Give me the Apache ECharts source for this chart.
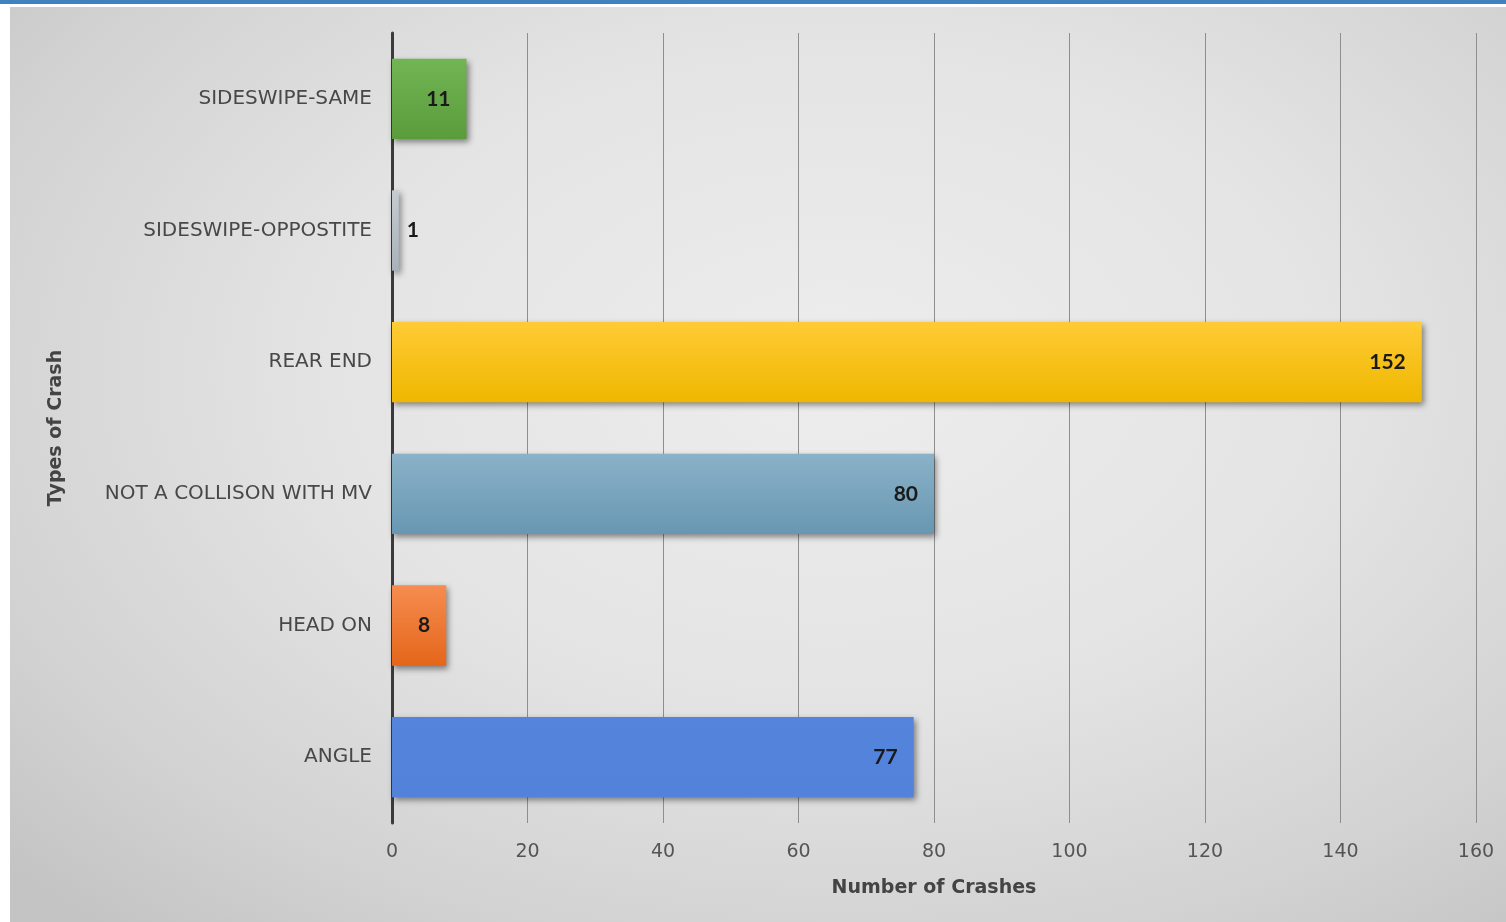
<!DOCTYPE html>
<html>
<head>
<meta charset="utf-8">
<script src="https://cdn.jsdelivr.net/npm/echarts@6/dist/echarts.min.js"></script>
<style>
  html, body { margin: 0; padding: 0; width: 1506px; height: 922px; background: #ffffff; overflow: hidden; }
  #topbar { position: absolute; left: 0; top: 0; width: 1506px; height: 4px; background: #3f82bd; }
  #panel { position: absolute; left: 10px; top: 7px; width: 1496px; height: 915px;
    background: radial-gradient(ellipse 75% 80% at 55% 40%, #ededed 0%, #e4e4e4 45%, #d2d2d2 80%, #c4c4c4 100%); }
  #chart { position: absolute; left: 0; top: 0; width: 1506px; height: 922px; }
</style>
</head>
<body>
<div id="topbar"></div>
<div id="panel"></div>
<div id="chart"></div>
<script>
const categories = ['ANGLE', 'HEAD ON', 'NOT A COLLISON WITH MV', 'REAR END', 'SIDESWIPE-OPPOSTITE', 'SIDESWIPE-SAME'];
const crashCounts = [77, 8, 80, 152, 1, 11];
const xTicks = [0, 20, 40, 60, 80, 100, 120, 140, 160];
const barColors = [
  ['#5584dc', '#5382da'],
  ['#f68c50', '#e4661a'],
  ['#8ab2c8', '#6897b2'],
  ['#ffcb35', '#efb700'],
  ['#c4cbd1', '#a9b2ba'],
  ['#72b554', '#5a9c3c']
];

const FONT = '"DejaVu Sans", sans-serif';
const VFONT = 'Lato, "Open Sans", sans-serif';
const chart = echarts.init(document.getElementById('chart'), null, { renderer: 'canvas' });

const data = crashCounts.map((v, i) => ({
  value: v,
  itemStyle: {
    color: new echarts.graphic.LinearGradient(0, 0, 0, 1, [
      { offset: 0, color: barColors[i][0] },
      { offset: 1, color: barColors[i][1] }
    ])
  },
  label: v < 3 ? { position: 'right', distance: 8 } : {}
}));

chart.setOption({
  backgroundColor: 'transparent',
  animation: false,
  grid: { left: 392, right: 30, top: 33, bottom: 99, containLabel: false },
  xAxis: {
    type: 'value',
    min: xTicks[0],
    max: xTicks[xTicks.length - 1],
    interval: xTicks[1] - xTicks[0],
    axisLine: { show: false },
    axisTick: { show: false },
    splitLine: { show: true, lineStyle: { color: '#8e8e8e', width: 1 } },
    axisLabel: { color: '#555', fontSize: 19, fontFamily: FONT, margin: 20 },
    name: 'Number of Crashes',
    nameLocation: 'middle',
    nameGap: 56,
    nameTextStyle: { color: '#444', fontSize: 19, fontWeight: 'bold', fontFamily: FONT }
  },
  yAxis: {
    type: 'category',
    data: categories,
    axisLine: { show: true, lineStyle: { color: '#3a3a3a', width: 3 } },
    axisTick: { show: false },
    splitLine: { show: false },
    axisLabel: { color: '#484848', fontSize: 20, fontFamily: FONT, margin: 20 },
    name: 'Types of Crash',
    nameLocation: 'middle',
    nameGap: 326,
    nameRotate: 90,
    nameTextStyle: { color: '#444', fontSize: 19, fontWeight: 'bold', fontFamily: FONT }
  },
  series: [{
    type: 'bar',
    data: data,
    barWidth: '61%',
    itemStyle: {
      shadowColor: 'rgba(0,0,0,0.45)',
      shadowBlur: 6,
      shadowOffsetX: 2,
      shadowOffsetY: 3
    },
    label: {
      show: true,
      position: 'insideRight',
      distance: 16,
      color: '#1a1a1a',
      fontSize: 21,
      fontWeight: 'bold',
      fontFamily: VFONT
    }
  }]
});
</script>
</body>
</html>
